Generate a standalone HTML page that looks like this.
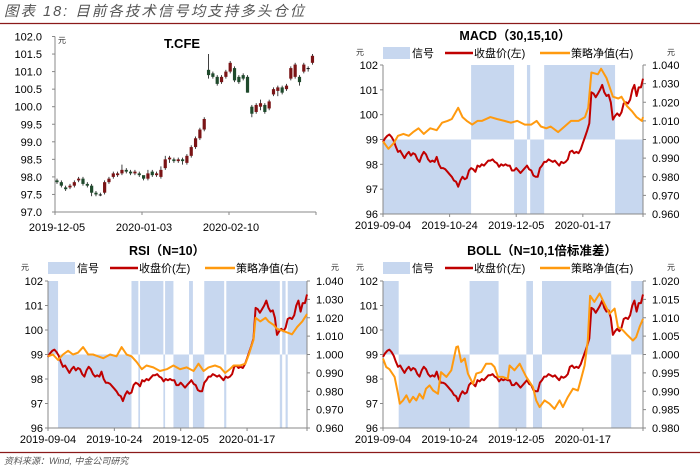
<!DOCTYPE html>
<html><head><meta charset="utf-8">
<style>
body{margin:0;background:#fff;}
svg{display:block;font-family:"Liberation Sans","Noto Sans CJK SC",sans-serif;}
</style></head>
<body>
<svg id="chart" width="700" height="469" viewBox="0 0 700 469" xmlns="http://www.w3.org/2000/svg">
<text x="4" y="16" font-size="14.5" font-style="italic" fill="#555" letter-spacing="2">图表 18: 目前各技术信号均支持多头仓位</text>
<line x1="0" y1="23.5" x2="700" y2="23.5" stroke="#8B1A1A" stroke-width="1.2"/>
<line x1="0" y1="452.5" x2="700" y2="452.5" stroke="#8B1A1A" stroke-width="1.2"/>
<text x="4" y="464" font-size="9" font-style="italic" fill="#555">资料来源：Wind, 中金公司研究</text>
</svg>
<script>
// ---------- data ----------
const closes = [98.9,99.05,99.15,99.2,99.1,98.95,98.7,98.5,98.55,98.4,98.25,98.4,98.5,98.35,98.45,98.4,98.2,98.1,98.35,98.5,98.4,98.2,98.1,98.15,98.1,98.3,98.0,97.85,97.85,97.8,97.7,97.6,97.5,97.35,97.3,97.1,97.35,97.5,97.4,97.45,97.75,97.85,97.8,97.7,97.95,97.9,98.0,97.95,98.05,98.15,98.15,98.2,98.1,98.05,97.9,98.0,97.95,98.0,97.95,97.95,97.75,97.75,
97.85,97.75,97.65,97.75,97.85,97.95,97.8,97.75,97.55,97.5,97.5,97.85,97.95,98.1,98.1,98.2,98.15,98.1,98.15,98.05,97.95,98.1,98.05,98.1,98.2,98.5,98.55,98.45,98.5,98.45,98.6,98.85,99.1,99.35,99.65,100.9,100.85,100.7,100.85,101.0,101.2,100.9,100.75,100.8,100.5,99.8,99.95,100.05,99.95,100.1,100.45,100.5,100.45,100.6,101.0,101.2,100.75,101.1,101.1,101.45];
const xTickIdx = [0,31,62,93];
const xTickLabels = ["2019-09-04","2019-10-24","2019-12-05","2020-01-17"];

const cOpen = [97.9,97.85,97.7,97.7,97.75,97.9,97.95,97.8,97.75,97.55,97.5,97.55,97.85,98.0,98.05,98.1,98.2,98.15,98.1,98.1,98.05,97.95,98.15,98.05,98.0,98.25,98.5,98.5,98.45,98.5,98.4,98.6,98.85,99.1,99.35,101.05,100.95,100.85,100.7,100.85,101.0,101.1,100.85,100.9,100.85,100.0,99.85,100.0,100.05,99.95,100.35,100.45,100.55,100.5,100.8,100.85,100.85,101.0,101.1,101.25];
const cClose = [97.85,97.75,97.65,97.75,97.85,97.95,97.8,97.75,97.55,97.5,97.5,97.85,97.95,98.1,98.1,98.2,98.15,98.1,98.15,98.05,97.95,98.1,98.05,98.1,98.2,98.5,98.55,98.45,98.5,98.45,98.6,98.85,99.1,99.35,99.65,100.9,100.85,100.65,100.85,101.0,101.25,100.75,100.7,100.8,100.4,99.8,100.05,100.1,99.85,100.15,100.5,100.55,100.4,100.6,101.1,101.2,100.7,101.2,101.1,101.45];
const cHigh = [97.95,97.9,97.75,97.8,97.9,98.0,98.0,97.85,97.8,97.6,97.55,97.9,98.0,98.15,98.15,98.35,98.25,98.2,98.2,98.15,98.0,98.2,98.2,98.15,98.3,98.6,98.6,98.55,98.55,98.55,98.65,98.9,99.15,99.4,99.7,101.5,101.0,100.9,100.9,101.05,101.3,101.15,100.9,100.95,100.9,100.05,100.1,100.2,100.1,100.2,100.55,100.6,100.6,100.65,101.15,101.25,100.9,101.25,101.15,101.5];
const cLow = [97.8,97.7,97.6,97.65,97.7,97.85,97.75,97.7,97.45,97.45,97.45,97.5,97.8,97.95,98.0,98.05,98.1,98.05,98.05,98.0,97.9,97.9,98.0,98.0,97.95,98.2,98.4,98.4,98.4,98.35,98.35,98.55,98.8,99.05,99.3,100.8,100.8,100.6,100.65,100.8,100.95,100.7,100.65,100.75,100.4,99.7,99.8,99.9,99.8,99.9,100.3,100.3,100.35,100.45,100.75,100.8,100.6,100.95,101.0,101.2];
const cTickLabels = ["2019-12-05","2020-01-03","2020-02-10"];
const cTickIdx = [0,20,40];
const cYTicks = [97.0,97.5,98.0,98.5,99.0,99.5,100.0,100.5,101.0,101.5,102.0];

const macdSigStart = [0,41,61,67,68.5,75,108];
const macdSigVal = [-1,1,-1,1,-1,1,-1];
const macdNavIdx = [0,2.5,5,7,9.5,12,14,16.5,19,22,25,27.5,30,32,35,37,39,41.5,44,46,50,53,56.5,59.5,62.5,66,69,71.5,73.5,76,78,81.5,84.5,87.5,91,94,95.5,97,100,101.5,104,107,109.5,111,113.5,116,118,120.5,121];
const macdNav = [0.999,0.995,0.998,1.002,1.003,1.002,1.004,1.006,1.003,1.006,1.005,1.009,1.010,1.011,1.017,1.012,1.010,1.008,1.010,1.010,1.012,1.011,1.010,1.009,1.010,1.008,1.008,1.010,1.007,1.006,1.007,1.004,1.007,1.010,1.010,1.012,1.017,1.036,1.035,1.038,1.033,1.023,1.022,1.023,1.018,1.015,1.012,1.010,1.012];

const rsiSigStart = [0,4.7,39,42.2,43,53.9,54.7,58.6,65.9,67.7,73,82.3,83.3,108.3,109.4,111,112];
const rsiSigVal = [1,-1,1,-1,1,-1,1,-1,1,-1,1,-1,1,-1,1,-1,1];
const rsiNavIdx = [0,2.3,4.7,7,9.4,11.7,14,16.4,18.8,21,23.4,25.8,29,32,34.4,36.7,39,41.4,43.8,46,49.2,52.3,55.5,58.6,61.7,64.8,68,70.3,72.7,75,78,80.5,82.8,85,86.7,89.8,92.2,93.8,96,97,99.2,101.6,103,105.5,107,109.4,111.7,114,116.4,118.8,121];
const rsiNav = [0.999,1.000,0.997,1.000,1.002,1.000,1.001,1.004,1.000,1.000,0.999,0.998,1.000,0.999,1.004,1.000,0.999,0.996,0.992,0.994,0.993,0.991,0.992,0.994,0.992,0.993,0.991,0.995,0.991,0.993,0.994,0.993,0.990,0.992,0.994,0.994,0.995,1.000,1.008,1.020,1.018,1.020,1.018,1.016,1.014,1.013,1.012,1.011,1.015,1.018,1.022];

const bollSigStart = [0,7.3,40.3,53.8,66.7,69.8,74,106.2,115.5];
const bollSigVal = [1,-1,1,-1,1,-1,1,-1,1];
const bollNavIdx = [0,1.5,3,5.4,7,7.8,9.3,10.9,12.4,14,15.5,17,18.6,20,21.7,23.3,25.6,27,29.5,31.8,34.1,34.9,36.4,38,39.5,41.9,43.4,45.7,48,50.4,51.9,53.5,55.8,58.1,58.9,61.2,63.6,65.1,66.7,69.8,71.3,72.9,75.2,77.5,79.8,82.2,83.7,86,88.4,90.7,92.2,93.8,95.3,96.4,98.4,100.8,103.1,105.4,107.8,109.3,111.6,113.9,116.3,117.8,119.4,121];
const bollNav = [0.9989,0.9966,0.996,0.9939,0.9893,0.9866,0.9875,0.9889,0.987,0.9885,0.9875,0.9893,0.988,0.9907,0.9916,0.9902,0.9893,0.9952,0.9939,0.9957,1.002,1.0022,0.998,0.9989,0.9948,0.992,0.9948,0.9952,0.9975,0.9975,0.9966,0.9939,0.9939,0.9934,0.997,0.9957,0.9975,0.9957,0.9939,0.9911,0.9875,0.9857,0.9875,0.9866,0.9852,0.9875,0.9857,0.9884,0.9907,0.9902,0.9934,0.997,1.0038,1.016,1.0143,1.0166,1.0138,1.0111,1.0125,1.0075,1.0066,1.0052,1.0038,1.0047,1.0075,1.0097];

const leftTicks = [96,97,98,99,100,101,102];
const rsiRightTicks = [0.960,0.970,0.980,0.990,1.000,1.010,1.020,1.030,1.040];
const bollRightTicks = [0.980,0.985,0.990,0.995,1.000,1.005,1.010,1.015,1.020];

// ---------- helpers ----------
const NS = "http://www.w3.org/2000/svg";
const svg = document.getElementById('chart');
function mk(tag, attrs, parent) {
  const e = document.createElementNS(NS, tag);
  for (const k in attrs) e.setAttribute(k, attrs[k]);
  (parent || svg).appendChild(e);
  return e;
}
function txt(s, x, y, size, anchor, extra, parent) {
  const t = mk('text', Object.assign({x:x, y:y, 'font-size':size, 'text-anchor':anchor, fill:'#000'}, extra||{}), parent);
  t.textContent = s;
  return t;
}

// ---------- candlestick chart ----------
(function(){
  const g = mk('g', {});
  
  
  const X0 = 55, X1 = 316, Y0 = 36.5, Y1 = 212;
  const yS = v => Y1 - (v - 97) / 5 * (Y1 - Y0);
  const step = 4.33, xS = i => 57 + i * step;
  const ya = mk('line', {x1:X0, y1:Y0, x2:X0, y2:Y1, stroke:'#888', 'stroke-width':1}, g);
  
  
  const xa = mk('line', {x1:X0, y1:Y1, x2:X1, y2:Y1, stroke:'#888', 'stroke-width':1}, g);
  
  
  cYTicks.forEach(v => {
    const y = yS(v);
    mk('line', {x1:X0-3, y1:y, x2:X0, y2:y, stroke:'#888'}, g);
    const t = txt(v.toFixed(1), 42, y + 4, 11, 'end', {}, g);
    
    
  });
  [0,20,40,60].forEach(i => {
    const x = X0 + (i/60) * (X1 - X0);
    mk('line', {x1:x, y1:Y1, x2:x, y2:Y1+3, stroke:'#888'}, g);
  });
  cTickIdx.forEach((i, k) => {
    const t = txt(cTickLabels[k], X0 + (i/60)*(X1-X0) + 2, 231, 11, 'middle', {}, g);
    
    
  });
  const u = txt('元', 58, 43, 8, 'start', {fill:'#333'}, g);
  
  
  const ti = txt('T.CFE', 182, 48, 13, 'middle', {'font-weight':'bold'}, g);
  
  
  cClose.forEach((c, i) => {
    const o = cOpen[i], x = xS(i);
    const w = mk('line', {x1:x, y1:yS(cHigh[i]), x2:x, y2:yS(cLow[i]), stroke:'#111', 'stroke-width':0.8}, g);
    
    
    const top = yS(Math.max(o, c)), bot = yS(Math.min(o, c));
    const col = c > o ? '#7A1416' : (c < o ? '#1F4A2C' : '#111');
    const b = mk('rect', {x:x-1.6, y:top, width:3.2, height:Math.max(1, bot-top), fill:col}, g);
    
    
  });
})();

// ---------- signal charts ----------
function signalChart(cfg) {
  const g = mk('g', {});
  
  
  const {X0, X1, Y0, Y1} = cfg;
  const N = closes.length - 1;
  const xS = i => X0 + i / N * (X1 - X0);
  const yL = v => Y1 - (v - 96) / 6 * (Y1 - Y0);
  const yR = v => Y1 - (v - cfg.rMin) / (cfg.rMax - cfg.rMin) * (Y1 - Y0);
  const mid = yL(99);
  cfg.sigStart.forEach((s, k) => {
    const e = k + 1 < cfg.sigStart.length ? cfg.sigStart[k+1] : N;
    const v = cfg.sigVal[k];
    const r = mk('rect', {x:xS(s), y: v > 0 ? Y0 : mid, width:xS(e)-xS(s), height: v > 0 ? mid - Y0 : Y1 - mid, fill:'#C7D7EF'}, g);
    
    
  });
  const la = mk('line', {x1:X0, y1:Y0, x2:X0, y2:Y1, stroke:'#888'}, g);
  
  
  const ra = mk('line', {x1:X1, y1:Y0, x2:X1, y2:Y1, stroke:'#888'}, g);
  
  
  const xa = mk('line', {x1:X0, y1:Y1, x2:X1, y2:Y1, stroke:'#888'}, g);
  
  
  leftTicks.forEach(v => {
    mk('line', {x1:X0-3, y1:yL(v), x2:X0, y2:yL(v), stroke:'#888'}, g);
    const t = txt(String(v), X0 - 5, yL(v) + 4, 11, 'end', {}, g);
    
    
  });
  cfg.rTicks.forEach(v => {
    mk('line', {x1:X1, y1:yR(v), x2:X1+3, y2:yR(v), stroke:'#888'}, g);
    const t = txt(v.toFixed(3), X1 + 9, yR(v) + 4, 11, 'start', {}, g);
    
    
  });
  xTickIdx.forEach((i, k) => {
    mk('line', {x1:xS(i), y1:Y1, x2:xS(i), y2:Y1+3, stroke:'#888'}, g);
    const t = txt(xTickLabels[k], xS(i), Y1 + 15, 11, 'middle', {}, g);
    
    
  });
  mk('line', {x1:X1, y1:Y1, x2:X1, y2:Y1+3, stroke:'#888'}, g);
  const pc = closes.map((v, i) => xS(i).toFixed(1) + ',' + yL(v).toFixed(1)).join(' ');
  const l1 = mk('polyline', {points:pc, fill:'none', stroke:'#C00000', 'stroke-width':2, 'stroke-linejoin':'round'}, g);
  
  
  const pn = cfg.navIdx.map((i, k) => xS(i).toFixed(1) + ',' + yR(cfg.nav[k]).toFixed(1)).join(' ');
  const l2 = mk('polyline', {points:pn, fill:'none', stroke:'#FF9A0F', 'stroke-width':2, 'stroke-linejoin':'round'}, g);
  
  
  const ti = txt(cfg.title, cfg.tx, cfg.ty, 12.5, 'middle', {'font-weight':'bold'}, g);
  
  
  const ly = cfg.ly;
  const sw = mk('rect', {x:X0, y:ly-6, width:27, height:12, fill:'#C7D7EF'}, g);
  
  
  const t1 = txt('信号', X0 + 29, ly + 4, 11, 'start', {}, g);
  
  
  const s2 = mk('line', {x1:X0+62, y1:ly, x2:X0+90, y2:ly, stroke:'#C00000', 'stroke-width':2.5}, g);
  
  
  const t2 = txt('收盘价(左)', X0 + 91, ly + 4, 11, 'start', {}, g);
  
  
  const s3 = mk('line', {x1:X0+157, y1:ly, x2:X0+187, y2:ly, stroke:'#FF9A0F', 'stroke-width':2.5}, g);
  
  
  const t3 = txt('策略净值(右)', X0 + 188, ly + 4, 11, 'start', {}, g);
  
  
  const u1 = txt('元', X0 - 27, ly + 2, 8, 'start', {fill:'#333'}, g);
  
  
  const u2 = txt('元', X1 + 24, ly + 2, 8, 'start', {fill:'#333'}, g);
  
  
}

signalChart({name:'macd-chart', X0:383, X1:643, Y0:65, Y1:214, rMin:0.96, rMax:1.04, rTicks:rsiRightTicks,
  sigStart:macdSigStart, sigVal:macdSigVal, navIdx:macdNavIdx, nav:macdNav,
  title:'MACD（30,15,10）', tx:515, ty:40, ly:53});
signalChart({name:'rsi-chart', X0:48, X1:307, Y0:281, Y1:428, rMin:0.96, rMax:1.04, rTicks:rsiRightTicks,
  sigStart:rsiSigStart, sigVal:rsiSigVal, navIdx:rsiNavIdx, nav:rsiNav,
  title:'RSI（N=10）', tx:167, ty:255, ly:268});
signalChart({name:'boll-chart', X0:383, X1:643, Y0:281, Y1:428, rMin:0.98, rMax:1.02, rTicks:bollRightTicks,
  sigStart:bollSigStart, sigVal:bollSigVal, navIdx:bollNavIdx, nav:bollNav,
  title:'BOLL（N=10,1倍标准差）', tx:542, ty:255, ly:268});
</script>
</body></html>
